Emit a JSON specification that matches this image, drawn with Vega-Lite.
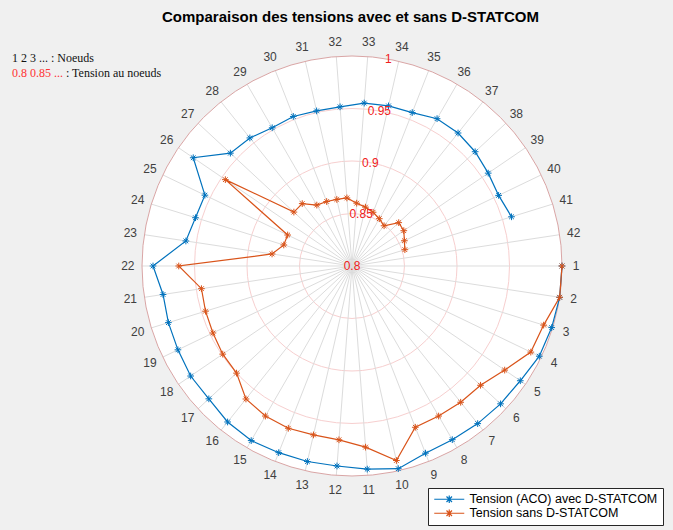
{
  "$schema": "https://vega.github.io/schema/vega-lite/v6.json",
  "width": 673,
  "height": 500,
  "autosize": {"type": "none"},
  "padding": {"top": 30, "left": 0, "right": 0, "bottom": 0},
  "background": "#f0f0f0",
  "config": {"view": {"stroke": null}},
  "title": {"text": "Comparaison des tensions avec et sans D-STATCOM", "font": "Liberation Sans", "fontSize": 15, "fontWeight": "bold", "color": "#000000", "anchor": "middle", "frame": "group", "offset": 5, "dx": 14},
  "datasets": {
    "v": [
      {"node": 1, "aco": 1.0, "sans": 1.0},
      {"node": 2, "aco": 1.0, "sans": 1.0},
      {"node": 3, "aco": 0.999, "sans": 0.991},
      {"node": 4, "aco": 0.998, "sans": 0.989},
      {"node": 5, "aco": 0.994, "sans": 0.976},
      {"node": 6, "aco": 0.993, "sans": 0.967},
      {"node": 7, "aco": 0.992, "sans": 0.966},
      {"node": 8, "aco": 0.991, "sans": 0.965},
      {"node": 9, "aco": 0.9915, "sans": 0.965},
      {"node": 10, "aco": 0.998, "sans": 0.99},
      {"node": 11, "aco": 0.994, "sans": 0.973},
      {"node": 12, "aco": 0.991, "sans": 0.966},
      {"node": 13, "aco": 0.991, "sans": 0.965},
      {"node": 14, "aco": 0.991, "sans": 0.966},
      {"node": 15, "aco": 0.992, "sans": 0.965},
      {"node": 16, "aco": 0.99, "sans": 0.962},
      {"node": 17, "aco": 0.986, "sans": 0.95},
      {"node": 18, "aco": 0.986, "sans": 0.949},
      {"node": 19, "aco": 0.984, "sans": 0.947},
      {"node": 20, "aco": 0.983, "sans": 0.946},
      {"node": 21, "aco": 0.982, "sans": 0.945},
      {"node": 22, "aco": 0.9895, "sans": 0.965},
      {"node": 23, "aco": 0.96, "sans": 0.877},
      {"node": 24, "aco": 0.956, "sans": 0.868},
      {"node": 25, "aco": 0.9555, "sans": 0.868},
      {"node": 26, "aco": 0.983, "sans": 0.946},
      {"node": 27, "aco": 0.958, "sans": 0.8755},
      {"node": 28, "aco": 0.956, "sans": 0.876},
      {"node": 29, "aco": 0.952, "sans": 0.867},
      {"node": 30, "aco": 0.953, "sans": 0.866},
      {"node": 31, "aco": 0.9515, "sans": 0.865},
      {"node": 32, "aco": 0.952, "sans": 0.865},
      {"node": 33, "aco": 0.9556, "sans": 0.86},
      {"node": 34, "aco": 0.9564, "sans": 0.8575},
      {"node": 35, "aco": 0.957, "sans": 0.855},
      {"node": 36, "aco": 0.962, "sans": 0.852},
      {"node": 37, "aco": 0.962, "sans": 0.849},
      {"node": 38, "aco": 0.96, "sans": 0.8607},
      {"node": 39, "aco": 0.957, "sans": 0.8597},
      {"node": 40, "aco": 0.955, "sans": 0.8554},
      {"node": 41, "aco": 0.959, "sans": 0.8527}
    ],
    "nodes": [
      {"node": 1}, {"node": 2}, {"node": 3}, {"node": 4}, {"node": 5}, {"node": 6}, {"node": 7},
      {"node": 8}, {"node": 9}, {"node": 10}, {"node": 11}, {"node": 12}, {"node": 13}, {"node": 14},
      {"node": 15}, {"node": 16}, {"node": 17}, {"node": 18}, {"node": 19}, {"node": 20}, {"node": 21},
      {"node": 22}, {"node": 23}, {"node": 24}, {"node": 25}, {"node": 26}, {"node": 27}, {"node": 28},
      {"node": 29}, {"node": 30}, {"node": 31}, {"node": 32}, {"node": 33}, {"node": 34}, {"node": 35},
      {"node": 36}, {"node": 37}, {"node": 38}, {"node": 39}, {"node": 40}, {"node": 41}, {"node": 42}
    ],
    "rings": [{"r": 0.85}, {"r": 0.9}, {"r": 0.95}],
    "outer": [{"r": 1.0}],
    "rticks": [
      {"r": 0.8, "label": "0.8"},
      {"r": 0.85, "label": "0.85"},
      {"r": 0.9, "label": "0.9"},
      {"r": 0.95, "label": "0.95"},
      {"r": 1.0, "label": "1"}
    ]
  },
  "layer": [
    {
      "data": {"name": "outer"},
      "transform": [{"calculate": "datum.r-0.8", "as": "rr"}],
      "mark": {"type": "point", "shape": "circle", "filled": true, "color": "#ffffff", "opacity": 1, "strokeWidth": 0},
      "encoding": {
        "x": {"datum": 0, "type": "quantitative", "scale": {"domain": [-0.335238, 0.305714], "nice": false, "zero": false}, "axis": null},
        "y": {"datum": 0, "type": "quantitative", "scale": {"domain": [-0.251429, 0.224762], "nice": false, "zero": false}, "axis": null},
        "size": {"field": "rr", "type": "quantitative", "scale": {"type": "pow", "exponent": 2, "domain": [0, 0.2], "range": [0, 176400], "zero": true}, "legend": null}
      }
    },
    {
      "data": {"name": "rings"},
      "transform": [{"calculate": "datum.r-0.8", "as": "rr"}],
      "mark": {"type": "point", "shape": "circle", "filled": false, "color": "#f7cfcf", "opacity": 1, "strokeWidth": 1},
      "encoding": {
        "x": {"datum": 0, "type": "quantitative", "axis": null},
        "y": {"datum": 0, "type": "quantitative", "axis": null},
        "size": {"field": "rr", "type": "quantitative", "scale": {"type": "pow", "exponent": 2, "domain": [0, 0.2], "range": [0, 176400], "zero": true}, "legend": null}
      }
    },
    {
      "data": {"name": "nodes"},
      "transform": [
        {"calculate": "(datum.node-1)*2*PI/42", "as": "th"},
        {"calculate": "0", "as": "cx"},
        {"calculate": "0.2*cos(datum.th)", "as": "sx"},
        {"calculate": "-0.2*sin(datum.th)", "as": "sy"}
      ],
      "mark": {"type": "rule", "stroke": "#dcdcdc", "strokeWidth": 1},
      "encoding": {
        "x": {"field": "cx", "type": "quantitative", "axis": null},
        "y": {"field": "cx", "type": "quantitative", "axis": null},
        "x2": {"field": "sx"},
        "y2": {"field": "sy"}
      }
    },
    {
      "data": {"name": "outer"},
      "transform": [{"calculate": "datum.r-0.8", "as": "rr"}],
      "mark": {"type": "point", "shape": "circle", "filled": false, "color": "#d9a5a5", "opacity": 1, "strokeWidth": 1},
      "encoding": {
        "x": {"datum": 0, "type": "quantitative", "axis": null},
        "y": {"datum": 0, "type": "quantitative", "axis": null},
        "size": {"field": "rr", "type": "quantitative", "scale": {"type": "pow", "exponent": 2, "domain": [0, 0.2], "range": [0, 176400], "zero": true}, "legend": null}
      }
    },
    {
      "data": {"name": "v"},
      "transform": [
        {"fold": ["aco", "sans"], "as": ["k", "val"]},
        {"filter": "datum.k == 'aco'"},
        {"calculate": "'Tension (ACO) avec D-STATCOM'", "as": "series"},
        {"calculate": "(datum.node-1)*2*PI/42", "as": "th"},
        {"calculate": "(datum.val-0.8)*cos(datum.th)", "as": "px"},
        {"calculate": "-(datum.val-0.8)*sin(datum.th)", "as": "py"}
      ],
      "layer": [
        {
          "mark": {"type": "line", "strokeWidth": 1.2},
          "encoding": {
            "x": {"field": "px", "type": "quantitative", "axis": null},
            "y": {"field": "py", "type": "quantitative", "axis": null},
            "order": {"field": "node", "type": "quantitative"},
            "color": {
              "field": "series", "type": "nominal",
              "scale": {"domain": ["Tension (ACO) avec D-STATCOM", "Tension sans D-STATCOM"], "range": ["#0072BD", "#D95319"]},
              "legend": {
                "orient": "none", "legendX": 428, "legendY": 458, "title": null, "direction": "vertical",
                "fillColor": "#ffffff", "strokeColor": "#262626", "padding": 5, "rowPadding": 1,
                "labelFont": "Liberation Sans", "labelFontSize": 12.5, "labelColor": "#000000", "labelLimit": 400,
                "symbolType": "M-1,0L5,0M2,-0.75L2,0.75M1.45,-0.55L2.55,0.55M1.45,0.55L2.55,-0.55",
                "symbolSize": 100, "symbolStrokeWidth": 1.2, "symbolFillColor": "transparent", "labelOffset": 24
              }
            }
          }
        },
        {
          "mark": {"type": "point", "shape": "M0,-1L0,1M-1,0L1,0M-0.7,-0.7L0.7,0.7M-0.7,0.7L0.7,-0.7", "size": 45, "filled": false, "strokeWidth": 1, "opacity": 1},
          "encoding": {
            "x": {"field": "px", "type": "quantitative", "axis": null},
            "y": {"field": "py", "type": "quantitative", "axis": null},
            "color": {"field": "series", "type": "nominal"}
          }
        }
      ]
    },
    {
      "data": {"name": "v"},
      "transform": [
        {"fold": ["aco", "sans"], "as": ["k", "val"]},
        {"filter": "datum.k == 'sans'"},
        {"calculate": "'Tension sans D-STATCOM'", "as": "series"},
        {"calculate": "(datum.node-1)*2*PI/42", "as": "th"},
        {"calculate": "(datum.val-0.8)*cos(datum.th)", "as": "px"},
        {"calculate": "-(datum.val-0.8)*sin(datum.th)", "as": "py"}
      ],
      "layer": [
        {
          "mark": {"type": "line", "strokeWidth": 1.2},
          "encoding": {
            "x": {"field": "px", "type": "quantitative", "axis": null},
            "y": {"field": "py", "type": "quantitative", "axis": null},
            "order": {"field": "node", "type": "quantitative"},
            "color": {"field": "series", "type": "nominal"}
          }
        },
        {
          "mark": {"type": "point", "shape": "M0,-1L0,1M-1,0L1,0M-0.7,-0.7L0.7,0.7M-0.7,0.7L0.7,-0.7", "size": 45, "filled": false, "strokeWidth": 1, "opacity": 1},
          "encoding": {
            "x": {"field": "px", "type": "quantitative", "axis": null},
            "y": {"field": "py", "type": "quantitative", "axis": null},
            "color": {"field": "series", "type": "nominal"}
          }
        }
      ]
    },
    {
      "data": {"name": "rticks"},
      "transform": [
        {"calculate": "(datum.r-0.8)*cos(80*PI/180)", "as": "lx"},
        {"calculate": "(datum.r-0.8)*sin(80*PI/180)", "as": "ly"}
      ],
      "mark": {"type": "text", "font": "Liberation Sans", "fontSize": 12, "fill": "#f02020", "align": "center", "baseline": "middle"},
      "encoding": {
        "x": {"field": "lx", "type": "quantitative", "axis": null},
        "y": {"field": "ly", "type": "quantitative", "axis": null},
        "text": {"field": "label"}
      }
    },
    {
      "data": {"name": "nodes"},
      "transform": [
        {"calculate": "(datum.node-1)*2*PI/42", "as": "th"},
        {"calculate": "0.2135*cos(datum.th)", "as": "lx"},
        {"calculate": "-0.2135*sin(datum.th)", "as": "ly"}
      ],
      "mark": {"type": "text", "font": "Liberation Sans", "fontSize": 12, "fill": "#404040", "align": "center", "baseline": "middle"},
      "encoding": {
        "x": {"field": "lx", "type": "quantitative", "axis": null},
        "y": {"field": "ly", "type": "quantitative", "axis": null},
        "text": {"field": "node"}
      }
    },
    {
      "data": {"values": [{"note": "1 2 3 ... : Noeuds"}]},
      "mark": {"type": "text", "font": "Liberation Serif", "fontSize": 12, "fill": "#111111", "align": "left", "baseline": "middle"},
      "encoding": {
        "x": {"datum": -0.3238, "type": "quantitative", "axis": null},
        "y": {"datum": 0.1981, "type": "quantitative", "axis": null},
        "text": {"field": "note"}
      }
    },
    {
      "data": {"values": [{"note": "0.8 0.85 ..."}]},
      "mark": {"type": "text", "font": "Liberation Serif", "fontSize": 12, "fill": "#ff3333", "align": "left", "baseline": "middle"},
      "encoding": {
        "x": {"datum": -0.3238, "type": "quantitative", "axis": null},
        "y": {"datum": 0.1838, "type": "quantitative", "axis": null},
        "text": {"field": "note"}
      }
    },
    {
      "data": {"values": [{"note": ": Tension au noeuds"}]},
      "mark": {"type": "text", "font": "Liberation Serif", "fontSize": 12, "fill": "#111111", "align": "left", "baseline": "middle"},
      "encoding": {
        "x": {"datum": -0.2724, "type": "quantitative", "axis": null},
        "y": {"datum": 0.1838, "type": "quantitative", "axis": null},
        "text": {"field": "note"}
      }
    }
  ]
}
